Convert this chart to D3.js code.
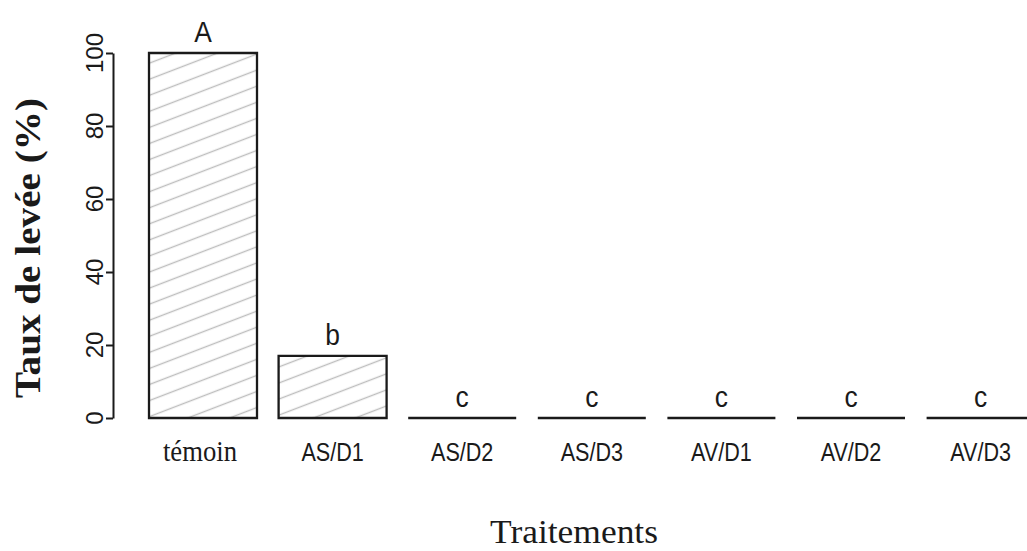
<!DOCTYPE html>
<html>
<head>
<meta charset="utf-8">
<script src="https://cdn.jsdelivr.net/npm/d3@7"></script>
<style>
  html, body { margin: 0; padding: 0; background: #fff; }
  svg { display: block; }
</style>
</head>
<body>
<svg id="chart" width="1027" height="551"></svg>
<script>
// Emergence rate per treatment, with significance group letters
const categories = ["témoin", "AS/D1", "AS/D2", "AS/D3", "AV/D1", "AV/D2", "AV/D3"];
const values = [100, 17, 0, 0, 0, 0, 0];
const groupLetters = ["A", "b", "c", "c", "c", "c", "c"];
const yTicks = [0, 20, 40, 60, 80, 100];
const yTitle = "Taux de levée (%)";
const xTitle = "Traitements";

const svg = d3.select("#chart");
const ink = "#1a1a1a";

const y = d3.scaleLinear().domain([0, 100]).range([418, 53]);
const x = d3.scaleBand()
  .domain(categories)
  .range([138.2, 1045.4])
  .paddingInner(1 / 6)
  .paddingOuter(1 / 12);

// diagonal hatching used to fill bars
const defs = svg.append("defs");
const pat = defs.append("pattern")
  .attr("id", "hatch")
  .attr("patternUnits", "userSpaceOnUse")
  .attr("width", 15)
  .attr("height", 15)
  .attr("patternTransform", "rotate(-21)");
pat.append("line")
  .attr("x1", 0).attr("y1", 7.5).attr("x2", 15).attr("y2", 7.5)
  .attr("stroke", "#bdbdbd")
  .attr("stroke-width", 1.4);

// bars as closed outlines, so a zero value still shows as a flat line
const barPath = (d, i) => {
  const x0 = x(d), x1 = x(d) + x.bandwidth();
  const yb = y(0), yt = y(values[i]);
  return `M${x0},${yb}V${yt}H${x1}V${yb}Z`;
};
svg.append("g")
  .selectAll("path")
  .data(categories)
  .join("path")
  .attr("d", barPath)
  .attr("fill", "url(#hatch)")
  .attr("stroke", ink)
  .attr("stroke-width", 2.3)
  .attr("stroke-linejoin", "miter");

// group letters above each bar
svg.append("g")
  .selectAll("text")
  .data(categories)
  .join("text")
  .attr("transform", (d, i) =>
    `translate(${x(d) + x.bandwidth() / 2},${y(values[i]) - 11}) scale(0.88,1)`)
  .attr("text-anchor", "middle")
  .attr("font-family", "Liberation Sans, Arial, sans-serif")
  .attr("font-size", 30)
  .attr("fill", ink)
  .text((d, i) => groupLetters[i]);

// y axis
const yAxis = svg.append("g")
  .attr("transform", "translate(113,0)")
  .call(d3.axisLeft(y).tickValues(yTicks).tickSize(7).tickSizeOuter(0).tickFormat(""));
yAxis.select(".domain").attr("stroke", ink).attr("stroke-width", 2);
yAxis.selectAll(".tick line").attr("stroke", ink).attr("stroke-width", 2);

svg.append("g")
  .selectAll("text")
  .data(yTicks)
  .join("text")
  .attr("transform", d => `translate(103,${y(d)}) rotate(-90)`)
  .attr("text-anchor", "middle")
  .attr("font-family", "Liberation Sans, Arial, sans-serif")
  .attr("font-size", 24)
  .attr("fill", ink)
  .text(d => d);

// category labels
svg.append("g")
  .selectAll("text")
  .data(categories)
  .join("text")
  .attr("transform", (d, i) =>
    `translate(${x(d) + x.bandwidth() / 2 - (i === 0 ? 3 : 0)},461) scale(${i === 0 ? 0.92 : 0.83},1)`)
  .attr("text-anchor", "middle")
  .attr("font-family", (d, i) => i === 0 ? "Liberation Serif, Times New Roman, serif" : "Liberation Sans, Arial, sans-serif")
  .attr("font-size", (d, i) => i === 0 ? 29 : 26)
  .attr("fill", ink)
  .text(d => d);

// axis titles
svg.append("text")
  .attr("transform", "translate(40,248) rotate(-90)")
  .attr("text-anchor", "middle")
  .attr("font-family", "Liberation Serif, Times New Roman, serif")
  .attr("font-weight", "bold")
  .attr("font-size", 36)
  .attr("textLength", 300)
  .attr("lengthAdjust", "spacingAndGlyphs")
  .attr("fill", ink)
  .text(yTitle);

svg.append("text")
  .attr("x", 574)
  .attr("y", 543)
  .attr("text-anchor", "middle")
  .attr("font-family", "Liberation Serif, Times New Roman, serif")
  .attr("font-size", 34)
  .attr("textLength", 168)
  .attr("lengthAdjust", "spacingAndGlyphs")
  .attr("fill", ink)
  .text(xTitle);
</script>
</body>
</html>
